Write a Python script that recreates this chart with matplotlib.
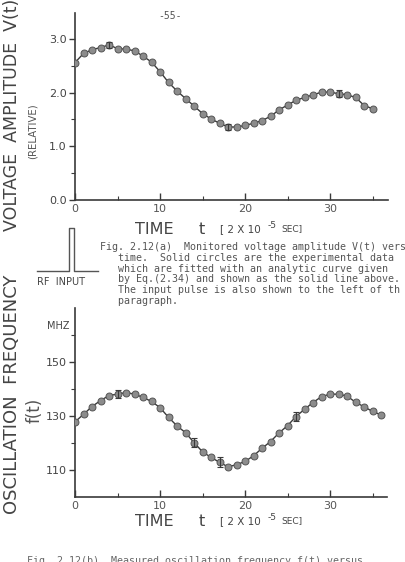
import matplotlib
matplotlib.use('Agg')
import matplotlib.pyplot as plt
from matplotlib.ticker import MultipleLocator, FormatStrFormatter

W, H = 405, 562

# time axis (units of 2x10^-5 sec)
t_volt = list(range(0, 36))
volt = [2.56, 2.73, 2.80, 2.84, 2.89, 2.82, 2.81, 2.78, 2.68, 2.57,
        2.39, 2.19, 2.03, 1.89, 1.75, 1.61, 1.51, 1.43, 1.36, 1.36,
        1.39, 1.43, 1.48, 1.56, 1.68, 1.77, 1.86, 1.91, 1.96, 2.01,
        2.01, 1.98, 1.96, 1.91, 1.76, 1.70]
volt_err_t = [4, 18, 31]
volt_err = [0.06, 0.06, 0.07]

t_freq = list(range(0, 37))
freq = [127.9, 130.7, 133.6, 135.8, 137.7, 138.2, 138.8, 138.2, 137.0, 135.5,
        133.2, 129.6, 126.4, 123.9, 120.2, 116.8, 114.7, 112.9, 111.2, 112.0,
        113.2, 115.3, 118.1, 120.6, 123.8, 126.5, 129.9, 132.6, 135.1, 137.3,
        138.2, 138.2, 137.5, 135.2, 133.5, 131.8, 130.5]
freq_err_t = [5, 14, 17, 26]
freq_err = [1.4, 1.8, 1.8, 1.6]

caption_a = [
    "Fig. 2.12(a)  Monitored voltage amplitude V(t) vers",
    "   time.  Solid circles are the experimental data",
    "   which are fitted with an analytic curve given",
    "   by Eq.(2.34) and shown as the solid line above.",
    "   The input pulse is also shown to the left of th",
    "   paragraph.",
]
caption_b = "Fig. 2.12(b)  Measured oscillation frequency f(t) versus"

INK = '#3a3a3a'
DOT = '#8c8c8c'


def fx(x):
    return x / W


def fy(y):
    return 1 - y / H


def ax_box(left, right, top, bottom):
    return [fx(left), fy(bottom), fx(right) - fx(left), fy(top) - fy(bottom)]


def style_axes(ax):
    for s in ['top', 'right']:
        ax.spines[s].set_visible(False)
    for s in ['left', 'bottom']:
        ax.spines[s].set_color(INK)
        ax.spines[s].set_linewidth(1.2)
    ax.xaxis.set_major_locator(MultipleLocator(10))
    ax.xaxis.set_minor_locator(MultipleLocator(5))
    ax.tick_params(axis='x', which='major', direction='in', length=5, width=1,
                   color=INK, labelsize=8, labelcolor='#555555', pad=3)
    ax.tick_params(axis='x', which='minor', direction='in', length=3, width=0.8, color=INK)
    ax.tick_params(axis='y', which='major', direction='out', length=4, width=1,
                   color=INK, labelsize=8, labelcolor='#444444', pad=2)
    ax.tick_params(axis='y', which='minor', direction='out', length=3, width=0.8, color=INK)


def draw_series(ax, t, v, et, ev):
    ax.plot(t, v, '-', color=INK, lw=1.0, zorder=2)
    ax.plot(t, v, 'o', ms=5, mfc=DOT, mec='#555555', mew=0.7, zorder=3)
    ev_y = [v[t.index(i)] for i in et]
    ax.errorbar(et, ev_y, yerr=ev, fmt='none', ecolor=INK, elinewidth=0.8,
                capsize=2.5, capthick=0.8, zorder=4)


fig = plt.figure(figsize=(W / 100, H / 100), dpi=100)

# upper panel: voltage amplitude
ax1 = fig.add_axes(ax_box(75, 388, 13, 200))
draw_series(ax1, t_volt, volt, volt_err_t, volt_err)
ax1.set_xlim(0, 36.8)
ax1.set_ylim(0, 3.484)
ax1.yaxis.set_major_locator(MultipleLocator(1))
ax1.yaxis.set_minor_locator(MultipleLocator(0.5))
ax1.yaxis.set_major_formatter(FormatStrFormatter('%.1f'))
style_axes(ax1)

# lower panel: oscillation frequency
ax2 = fig.add_axes(ax_box(75, 387, 308, 497))
draw_series(ax2, t_freq, freq, freq_err_t, freq_err)
ax2.set_xlim(0, 36.7)
ax2.set_ylim(100, 170.2)
ax2.set_yticks([110, 130, 150])
ax2.set_yticks([120, 140, 160], minor=True)
style_axes(ax2)

# page text
fig.text(fx(170), fy(16), '-55-', fontsize=7, family='DejaVu Sans Mono',
         color='#555555', ha='center', va='center')

lab = dict(rotation=90, color='#444444', ha='center', va='bottom', family='DejaVu Sans')
fig.text(fx(12), fy(231), 'VOLTAGE  AMPLITUDE  V(t)', fontsize=12.5, **lab)
fig.text(fx(33), fy(131), '(RELATIVE)', fontsize=7.3, rotation=90, color='#555555',
         ha='center', va='center')
fig.text(fx(12), fy(514), 'OSCILLATION  FREQUENCY', fontsize=13, **lab)
fig.text(fx(35), fy(410), 'f(t)', fontsize=12, rotation=90, color='#555555',
         ha='center', va='center')
fig.text(fx(58), fy(326), 'MHZ', fontsize=7, color='#444444', ha='center', va='center')


def time_label(y):
    fig.text(fx(135), fy(y), 'TIME', fontsize=11.5, color='#444444', ha='left', va='center')
    fig.text(fx(199), fy(y), 't', fontsize=11.5, color='#444444', ha='left', va='center')
    fig.text(fx(220), fy(y), '[ 2 X 10', fontsize=7.5, color='#444444', ha='left', va='center')
    fig.text(fx(268), fy(y - 4), '-5', fontsize=6.5, color='#444444', ha='left', va='center')
    fig.text(fx(281), fy(y), 'SEC]', fontsize=6.5, color='#444444', ha='left', va='center')


time_label(229)
time_label(521)

# RF input pulse sketch
fig.add_artist(plt.Line2D([fx(37), fx(69), fx(69), fx(74), fx(74), fx(98)],
                          [fy(271), fy(271), fy(228), fy(228), fy(271), fy(271)],
                          color='#555555', lw=1.0))
fig.text(fx(37), fy(282), 'RF  INPUT', fontsize=7, color='#444444', ha='left', va='center')

for i, line in enumerate(caption_a):
    fig.text(fx(100), fy(247 + i * 10.8), line, fontsize=7.2, family='DejaVu Sans Mono',
             color='#555555', ha='left', va='center')
fig.text(fx(27), fy(561), caption_b, fontsize=7.2, family='DejaVu Sans Mono',
         color='#666666', ha='left', va='center')

fig.savefig('out.png', dpi=100)
